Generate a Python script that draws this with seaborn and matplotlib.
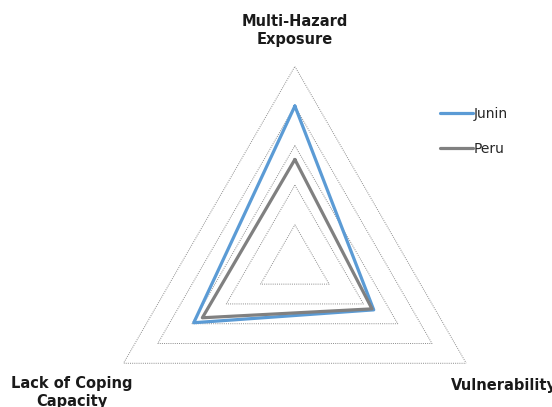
import numpy as np
import matplotlib
matplotlib.use('Agg')
import matplotlib.pyplot as plt
import seaborn as sns

# Data (scale 0-1)
categories = ['Multi-Hazard\nExposure', 'Vulnerability', 'Lack of Coping\nCapacity']
junin = [0.80, 0.46, 0.59]
peru = [0.53, 0.45, 0.54]
ring_levels = [0.2, 0.4, 0.6, 0.8, 1.0]

sns.set_style('white')
plt.rcParams['font.family'] = ['DejaVu Sans']

fig = plt.figure(figsize=(5.52, 4.07), dpi=100)
# polar axes centred where the reference triangle sits
ax = fig.add_axes([0.1757, -0.136, 0.717, 0.973], projection='polar')
ax.set_theta_offset(np.pi / 2)
ax.set_theta_direction(-1)

angles = np.linspace(0, 2 * np.pi, len(categories), endpoint=False)
closed = np.append(angles, angles[0])

# triangular dotted grid
for lvl in ring_levels:
    ax.plot(closed, [lvl] * len(closed), color='#8c8c8c', lw=0.7,
            ls=(0, (1, 1.2)), zorder=1)

ax.plot(closed, junin + junin[:1], color='#5b9bd5', lw=2.3, label='Junin', zorder=3)
ax.plot(closed, peru + peru[:1], color='#808080', lw=2.3, label='Peru', zorder=4)

ax.set_ylim(0, 1)
ax.set_xticks([])
ax.set_yticks([])
ax.grid(False)
ax.spines['polar'].set_visible(False)
ax.patch.set_alpha(0)

label_r = [1.18, 1.22, 1.30]
for ang, cat, r in zip(angles, categories, label_r):
    ax.text(ang, r, cat, ha='center', va='center', fontsize=10.5,
            fontweight='bold', color='#1a1a1a', linespacing=1.25, clip_on=False)

fig.legend(loc='upper left', bbox_to_anchor=(440 / 552, 1 - 107 / 407),
           frameon=False, fontsize=10, handlelength=2.4, handletextpad=0.05,
           labelspacing=1.5, borderpad=0, borderaxespad=0)

fig.savefig('out.png', dpi=100)
